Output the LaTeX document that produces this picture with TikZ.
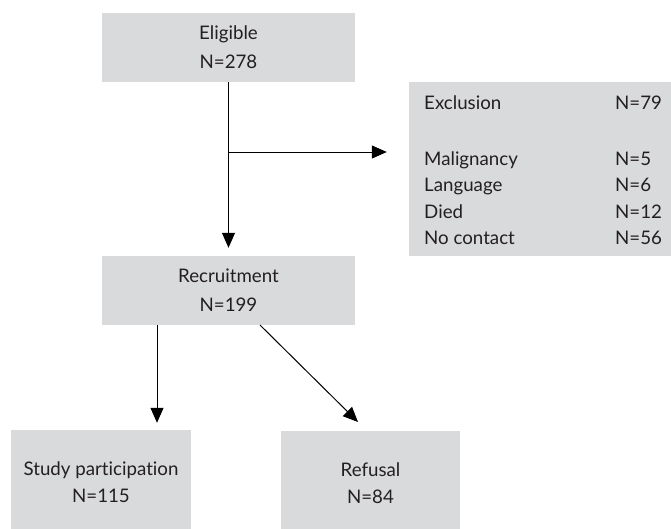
\documentclass[tikz,border=0pt]{standalone}
\usepackage{fontspec}
\setmainfont{Lato}[Ligatures={NoCommon}]
\usetikzlibrary{arrows.meta}
\definecolor{boxgrey}{HTML}{D9DADC}
\definecolor{txt}{HTML}{231F20}
\tikzset{
  box/.style={rectangle, fill=boxgrey, draw=none, inner sep=0pt, align=center, text=txt},
  bigtxt/.style={font=\fontsize{18.7}{29}\selectfont},
  smalltxt/.style={font=\fontsize{18.7}{27}\selectfont},
  rowtxt/.style={font=\fontsize{18.7}{22}\selectfont, text=txt, inner sep=0pt},
  conn/.style={line width=1pt, draw=black, -{Triangle[length=15pt,width=13pt]}},
  plain/.style={line width=1pt, draw=black}
}
\begin{document}
\begin{tikzpicture}[x=1pt,y=-1pt]
\useasboundingbox (0,0) rectangle (671,528);
% boxes
\node[box, bigtxt, minimum width=253pt, minimum height=69pt] (elig) at (228.5,47.5) {Eligible\\N=278};
\node[box, bigtxt, minimum width=253pt, minimum height=69pt] (rec) at (228.5,290.5) {Recruitment\\N=199};
\node[box, minimum width=262pt, minimum height=174pt] (excl) at (540,169) {};
\node[box, smalltxt, minimum width=180pt, minimum height=104pt] (study) at (101,482) {Study participation\\N=115};
\node[box, smalltxt, minimum width=179pt, minimum height=104pt] (ref) at (370.5,483) {Refusal\\N=84};
% exclusion rows
\node[rowtxt, anchor=base west] (e0) at (424,109) {Exclusion};
\node[rowtxt, anchor=base west] (n0) at (615,109) {N=79};
\node[rowtxt, anchor=base west] (e1) at (424,165) {Malignancy};
\node[rowtxt, anchor=base west] (n1) at (615,165) {N=5};
\node[rowtxt, anchor=base west] (e2) at (424,191.5) {Language};
\node[rowtxt, anchor=base west] (n2) at (615,191.5) {N=6};
\node[rowtxt, anchor=base west] (e3) at (424,218) {Died};
\node[rowtxt, anchor=base west] (n3) at (615,218) {N=12};
\node[rowtxt, anchor=base west] (e4) at (424,244.5) {No contact};
\node[rowtxt, anchor=base west] (n4) at (615,244.5) {N=56};
% connectors
\coordinate (br) at (229,152);
\coordinate (r1) at (157,325);
\coordinate (r2) at (260,325);
\coordinate (r3) at (358,422);
\draw[conn, shorten >=8pt] (elig.south) -- (rec.north);
\draw[conn, shorten >=22pt] (br) -- (br -| excl.west);
\draw[conn, shorten >=7pt] (r1) -- (r1 |- study.north);
\draw[conn] (r2) -- (r3);
\end{tikzpicture}
\end{document}
